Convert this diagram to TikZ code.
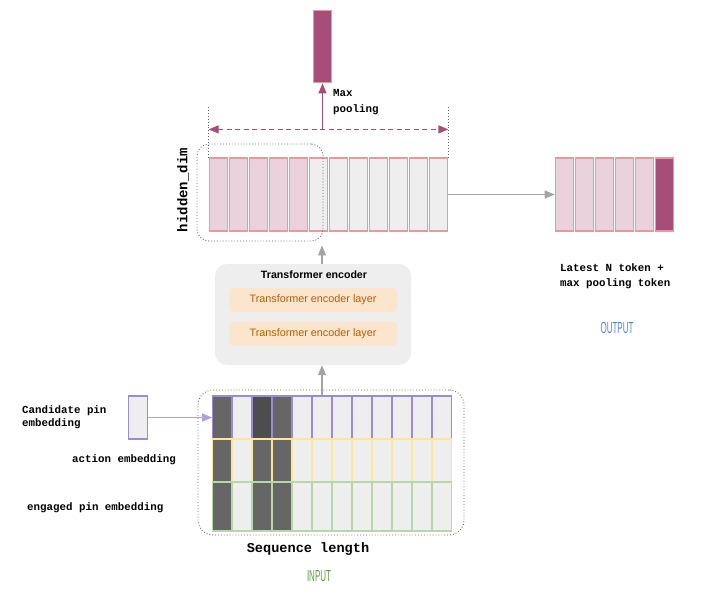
\documentclass[tikz,border=0pt]{standalone}
\usepackage{fontspec}
\setmainfont{Liberation Sans}
\setmonofont{Liberation Mono}
\usetikzlibrary{arrows.meta,calc}

\definecolor{pinkfill}{HTML}{EAD1DC}
\definecolor{pinkline}{HTML}{EA9999}
\definecolor{plum}{HTML}{A64D79}
\definecolor{cellgray}{HTML}{EEEEEE}
\definecolor{darkcell}{HTML}{666666}
\definecolor{darkercell}{HTML}{4D4D4D}
\definecolor{purpleline}{HTML}{9C8AD4}
\definecolor{yellowline}{HTML}{FFE599}
\definecolor{greenline}{HTML}{B6D7A8}
\definecolor{layerfill}{HTML}{FCE5CD}
\definecolor{layertext}{HTML}{B45F06}
\definecolor{arrowgray}{HTML}{A3A3A3}
\definecolor{inputgreen}{HTML}{5E9C43}
\definecolor{outputblue}{HTML}{4A86E8}

\begin{document}
\begin{tikzpicture}[x=1pt, y=-1pt,
	cell/.style={draw, line width=1.2pt, inner sep=0pt, minimum width=18.5pt},
	flow/.style={arrowgray, line width=1.2pt, -{Triangle[length=10pt, width=8pt]}},
	pooled/.style={plum, line width=1.3pt},
	label/.style={font=\ttfamily\bfseries\fontsize{10.8}{15}\selectfont, align=left, inner sep=0pt},
	window/.style={draw=black!60, dotted, line width=0.9pt, inner sep=0pt}]
\useasboundingbox (0,0) rectangle (720,591);

% hidden states after the encoder
\foreach \i in {1,...,5}
	\node[cell, draw=pinkline, fill=pinkfill, minimum height=73pt] (h\i) at ({218.5+20*(\i-1)}, 194.5) {};
\foreach \i in {6,...,12}
	\node[cell, draw=pinkline, fill=cellgray, minimum height=73pt] (h\i) at ({218.5+20*(\i-1)}, 194.5) {};
\node[window, rounded corners=12pt, minimum width=126pt, minimum height=97pt] (win) at (260, 192.5) {};
\node[rotate=90, font=\ttfamily\bfseries\fontsize{14}{16}\selectfont] (hdim) at (183, 190) {hidden\_dim};

% max pooling
\node[cell, draw=pinkline, fill=plum, minimum height=72.5pt] (pool) at (322.5, 46.5) {};
\draw[window] (h1.north west) -- ++(0,-52) coordinate (dl);
\draw[window] (h12.north east) -- ++(0,-52) coordinate (dr);
\coordinate (pl) at ($(h1.north west)+(0,-28)$);
\coordinate (pr) at ($(h12.north east)+(0,-28)$);
\draw[pooled, dash pattern=on 5pt off 3.5pt, {Triangle[length=10pt, width=8pt]}-{Triangle[length=10pt, width=8pt]}] (pl) -- (pr);
\draw[pooled, -{Triangle[length=10pt, width=8pt]}] (pool.south |- pl) -- (pool.south);
\node[label, anchor=north west, font=\ttfamily\bfseries\fontsize{10.8}{16}\selectfont] (maxlbl) at (333, 89) {Max\\pooling};

% output
\foreach \i in {1,...,5}
	\node[cell, draw=pinkline, fill=pinkfill, minimum height=73pt] (o\i) at ({564.5+20*(\i-1)}, 194.5) {};
\node[cell, draw=pinkline, fill=plum, minimum height=73pt] (o6) at (664.5, 194.5) {};
\draw[flow] (h12.east) -- (o1.west);
\node[label, anchor=north west] (outlbl) at (560, 263) {Latest N token +\\max pooling token};
\node[text=outputblue, font=\fontsize{16}{18}\selectfont] (outname) at (617, 328) {\scalebox{0.5}[1]{OUTPUT}};

% encoder
\node[fill=cellgray, rounded corners=12pt, minimum width=196pt, minimum height=101pt] (enc) at (313, 314.5) {};
\node[font=\bfseries\fontsize{10.6}{12}\selectfont] (enctitle) at (314, 275) {Transformer encoder};
\foreach \k/\y in {1/300, 2/333.5}
	\node[fill=layerfill, rounded corners=4pt, minimum width=168pt, minimum height=24pt, text=layertext, font=\fontsize{10.8}{12}\selectfont] (layer\k) at (313, \y) {Transformer encoder layer};

% input embeddings
\foreach \r/\y/\hgt/\c in {1/417.5/43/purpleline, 2/460.5/43/yellowline, 3/506.5/49/greenline}
	\foreach \i in {1,...,12}
		\node[cell, draw=\c, fill=cellgray, minimum height=\hgt pt] (r\r c\i) at ({222+20*(\i-1)}, \y) {};
\foreach \r in {1,2,3}
	\foreach \i in {1,3,4}
		\fill[darkcell] ([shift={(1.2pt,-1.2pt)}]r\r c\i.north west) rectangle ([shift={(-1.2pt,1.2pt)}]r\r c\i.south east);
\fill[darkercell] ([shift={(1.2pt,-1.2pt)}]r1c3.north west) rectangle ([shift={(-1.2pt,1.2pt)}]r1c3.south east);
\node[window, rounded corners=15pt, minimum width=266pt, minimum height=145pt] (inwin) at (331, 462.5) {};

\node[cell, draw=purpleline, fill=cellgray, minimum height=43pt] (cand) at (138, 417.5) {};
\draw[flow, draw=purpleline!80, fill=purpleline!80] (cand.east) -- (r1c1.west);
\node[label, anchor=west, font=\ttfamily\bfseries\fontsize{10.8}{12.5}\selectfont] (candlbl) at (22, 417) {Candidate pin\\embedding};
\node[label, anchor=west] (actlbl) at (72, 460) {action embedding};
\node[label, anchor=west] (englbl) at (27, 508) {engaged pin embedding};
\node[font=\ttfamily\bfseries\fontsize{13.6}{16}\selectfont] (seqlbl) at (308, 549) {Sequence length};
\node[text=inputgreen, font=\fontsize{16}{18}\selectfont] (inname) at (319, 576) {\scalebox{0.5}[1]{INPUT}};

% encoder connections
\coordinate (wtip) at ([yshift=-4pt]win.south);
\draw[flow] (r1c6.north) -- (r1c6.north |- enc.south);
\draw[flow] (enc.north -| r1c6) -- (wtip -| r1c6);
\end{tikzpicture}
\end{document}
